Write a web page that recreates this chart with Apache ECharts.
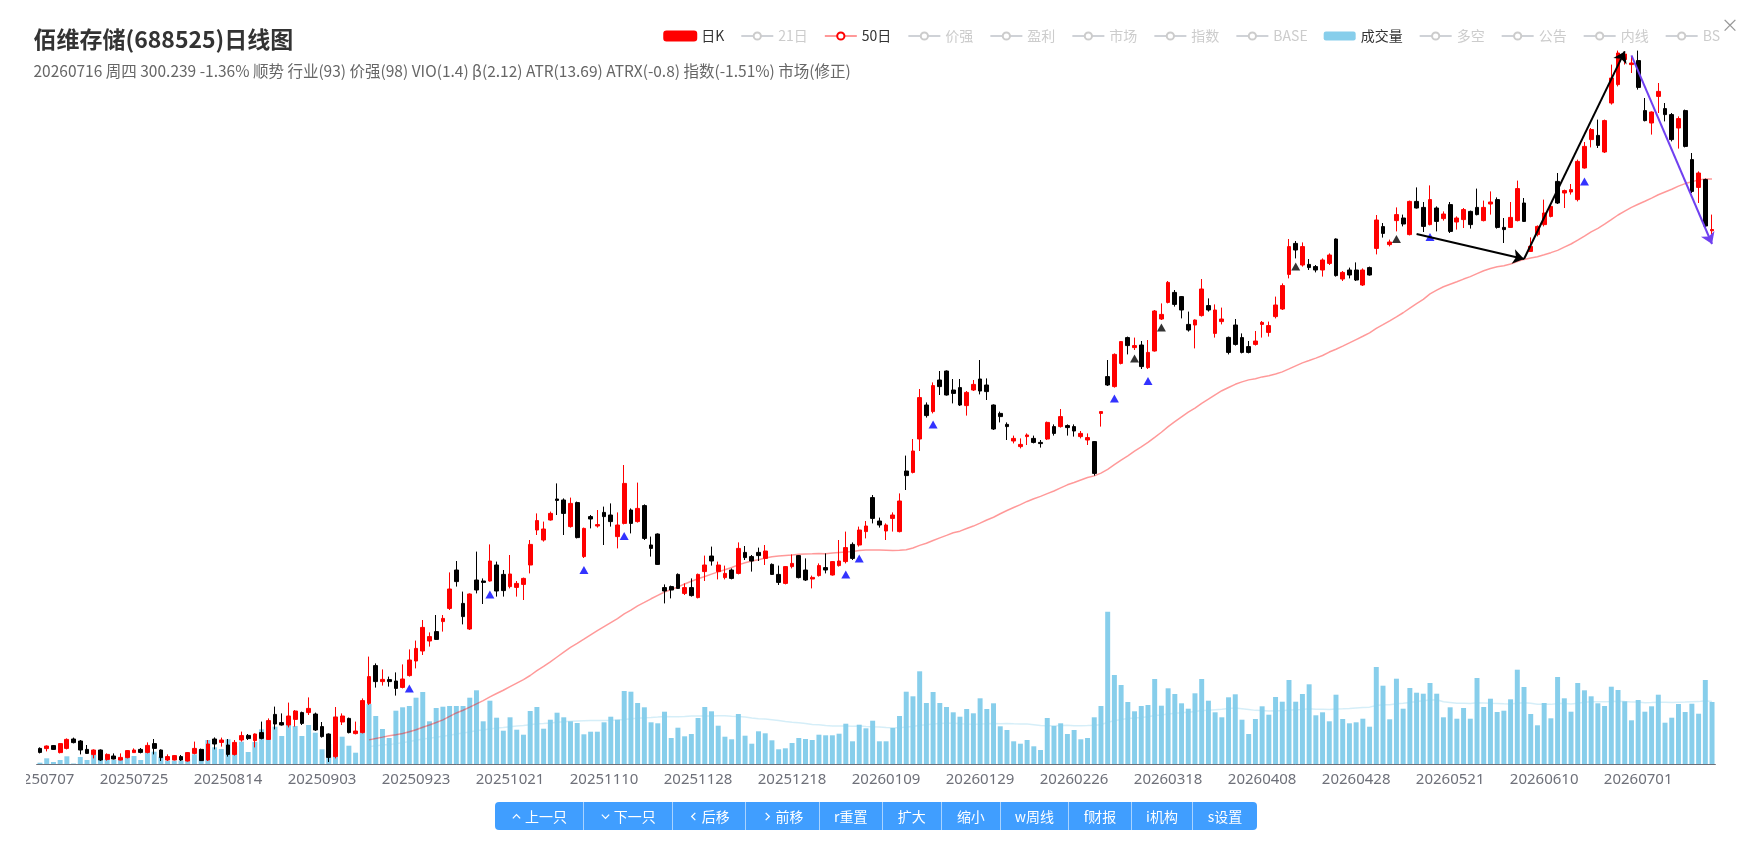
<!DOCTYPE html>
<html><head><meta charset="utf-8">
<script src="https://cdn.jsdelivr.net/npm/echarts/dist/echarts.min.js"></script>
<style>
html,body{margin:0;padding:0;background:#fff;width:1752px;height:857px;overflow:hidden;font-family:'Noto Sans CJK SC','Noto Sans',sans-serif;}
#chart{position:absolute;left:26px;top:0;width:1726px;height:857px;}
#close{position:absolute;left:1721px;top:15px;color:#999;font-size:18px;line-height:18px;}
#btns{position:absolute;left:495px;top:802px;height:28px;display:flex;}
#btns div{height:28px;line-height:28px;background:#409eff;color:#fff;font-size:14px;text-align:center;box-sizing:border-box;border-left:1px solid rgba(255,255,255,0.55);display:flex;align-items:center;justify-content:center;gap:3px;}
#btns div:first-child{border-left:none;border-radius:4px 0 0 4px;}
#btns div:last-child{border-radius:0 4px 4px 0;}
#btns svg{width:11px;height:11px;}
</style></head>
<body>
<div id="chart"></div>
<div id="close">×</div>
<div id="btns"></div>
<script>
// ---- categories (trading days) ----
const monthDays = [
 '202507:07 08 09 10 11 14 15 16 17 18 21 22 23 24 25 28 29 30 31',
 '202508:01 04 05 06 07 08 11 12 13 14 15 18 19 20 21 22 25 26 27 28 29',
 '202509:01 02 03 04 05 08 09 10 11 12 15 16 17 18 19 22 23 24 25 26 29 30',
 '202510:09 10 13 14 15 16 17 20 21 22 23 24 27 28 29 30 31',
 '202511:03 04 05 06 07 10 11 12 13 14 17 18 19 20 21 24 25 26 27 28',
 '202512:01 02 03 04 05 08 09 10 11 12 15 16 17 18 19 22 23 24 25 26 29 30 31',
 '202601:05 06 07 08 09 12 13 14 15 16 19 20 21 22 23 26 27 28 29 30',
 '202602:02 03 04 05 06 09 10 11 12 13 24 25 26 27',
 '202603:02 03 04 05 06 09 10 11 12 13 16 17 18 19 20 23 24 25 26 27 30 31',
 '202604:01 02 03 07 08 09 10 13 14 15 16 17 20 21 22 23 24 27 28 29 30',
 '202605:06 07 08 11 12 13 14 15 18 19 20 21 22 25 26 27 28 29',
 '202606:01 02 03 04 05 08 09 10 11 12 15 16 17 18 22 23 24 25 26 29 30',
 '202607:01 02 03 06 07 08 09 10 13 14 15 16'
];
const dates = [];
monthDays.forEach(s => { const p = s.split(':'); p[1].split(' ').forEach(d => dates.push(p[0] + d)); });

// ---- price data ----
const openP = [
40.8,40.7,42.2,38.7,40.8,45.5,44.5,40.3,37.7,40.0,
35.3,37.0,35.0,36.2,38.7,40.3,38.8,43.2,40.0,35.0,
35.0,36.7,34.5,38.3,40.3,35.0,45.5,43.8,42.5,37.8,
45.0,47.3,44.7,48.7,45.3,57.8,53.7,52.5,55.3,58.7,
58.7,58.0,51.7,48.0,36.7,54.0,55.8,48.2,48.7,63.3,
82.2,74.2,75.2,74.5,71.3,77.2,84.5,89.5,94.5,99.2,
104.2,110.8,130.0,113.3,100.5,125.0,124.5,124.5,132.5,127.8,
121.7,121.3,122.8,132.5,150.0,145.0,155.0,165.5,165.0,151.7,
163.7,136.7,156.7,152.0,158.8,157.5,146.7,153.3,160.0,154.2,
162.2,142.5,148.0,121.2,121.7,127.8,118.3,121.2,116.2,129.2,
137.0,129.2,126.2,130.0,128.3,138.8,136.7,138.8,135.8,132.8,
127.8,123.3,131.7,137.2,130.0,125.5,127.2,131.2,127.5,132.2,
134.2,142.8,142.5,149.2,166.2,154.5,149.5,155.8,149.2,179.5,
178.8,195.5,212.5,209.2,225.0,229.5,220.0,221.2,212.2,220.0,
225.5,222.5,212.5,208.3,202.8,194.5,191.7,196.7,195.8,193.8,
195.5,201.7,201.7,202.2,201.7,196.7,195.0,194.2,208.3,226.7,
221.7,233.3,246.2,241.2,242.5,231.2,239.5,255.5,263.8,268.8,
266.7,252.8,252.5,257.2,262.2,248.3,254.2,246.3,252.5,246.2,
241.7,242.8,252.8,248.8,256.7,260.5,277.8,293.3,282.5,282.8,
281.7,280.0,283.3,295.5,275.5,280.0,280.0,272.5,281.2,290.8,
301.7,292.7,304.7,306.0,297.7,314.3,311.3,302.7,311.0,305.7,
312.7,304.0,305.2,309.3,311.3,304.7,313.0,315.2,301.3,301.3,
304.7,313.5,289.3,297.7,302.7,306.8,324.3,318.5,319.0,315.2,
331.0,345.2,347.3,339.0,363.5,372.7,385.2,382.7,384.7,359.7,
353.5,366.8,360.7,357.7,351.0,359.7,335.2,321.3,325.2,299.6];
const closeP = [
38.8,42.0,40.3,43.2,45.3,43.7,40.0,38.3,40.0,35.0,
37.8,35.5,36.3,39.7,40.0,38.8,42.3,40.8,36.2,36.7,
37.2,35.0,38.7,40.8,34.7,43.0,43.0,45.0,37.8,43.8,
47.2,45.7,48.0,45.8,54.7,53.0,52.5,57.0,59.5,53.3,
60.8,50.0,46.7,36.3,56.5,57.0,48.7,49.5,64.7,76.7,
74.2,75.3,74.2,70.8,75.5,85.0,90.8,101.3,96.7,95.3,
105.8,120.5,124.2,106.7,118.0,120.0,123.8,134.5,119.5,119.7,
128.0,123.3,125.8,142.8,154.7,150.5,158.3,164.8,158.3,163.3,
146.2,150.8,155.5,152.7,156.7,154.2,152.5,173.3,153.3,160.8,
145.8,140.8,132.8,119.5,120.0,120.8,121.2,117.2,127.8,132.5,
134.5,132.5,128.3,125.8,140.8,136.2,134.5,137.2,139.5,127.8,
123.8,131.7,133.3,126.2,125.0,126.3,132.2,130.0,134.2,134.5,
141.2,135.8,150.0,152.0,155.8,152.5,152.5,157.5,164.5,177.2,
189.5,216.2,207.2,222.2,221.7,217.5,218.3,212.5,218.8,222.8,
219.5,219.2,200.5,206.7,201.7,195.8,192.8,197.5,193.8,193.2,
203.8,198.3,206.7,201.2,199.5,198.3,196.2,178.3,209.2,222.5,
237.8,244.2,242.2,242.2,231.7,238.8,259.5,257.8,273.8,262.8,
260.0,250.0,255.0,270.5,260.0,260.0,255.5,238.8,242.8,238.8,
238.8,244.5,253.8,252.2,262.5,272.2,291.7,290.0,291.7,281.2,
280.0,285.0,287.5,277.2,278.8,277.5,275.0,280.0,277.5,305.0,
298.3,294.0,307.7,303.0,314.3,311.0,301.8,315.2,304.3,308.0,
299.3,306.0,310.2,302.7,307.7,311.3,314.0,301.3,300.2,306.3,
320.7,304.3,291.8,301.8,308.5,311.8,313.5,319.7,320.2,334.3,
341.8,350.2,342.3,354.7,376.0,388.5,388.0,383.5,371.3,354.7,
359.0,369.3,357.7,345.2,355.7,341.8,319.3,328.5,302.0,300.24];
const lowP = [
38.3,39.3,40.0,38.3,40.3,43.3,37.8,38.0,35.8,34.5,
34.7,35.3,34.8,35.8,38.5,38.3,38.3,37.8,34.5,34.5,
34.8,34.5,34.2,37.8,34.5,34.5,40.3,41.7,36.7,37.2,
44.2,45.0,41.3,45.3,45.0,50.3,52.2,51.3,51.7,52.5,
57.5,49.5,46.2,34.0,35.8,52.5,48.3,47.8,48.3,62.5,
71.2,72.2,71.7,67.2,70.8,76.7,80.8,87.5,91.7,95.0,
99.2,110.0,121.7,102.8,100.0,118.3,113.0,124.2,116.7,116.7,
120.8,116.7,115.0,128.3,147.5,144.2,154.7,157.5,147.5,151.2,
145.8,136.0,150.8,151.2,142.5,151.7,140.8,152.8,148.3,153.7,
145.0,136.7,132.5,113.3,115.8,120.5,117.5,116.7,115.8,124.5,
132.2,125.3,125.3,125.3,127.8,135.0,129.2,134.5,132.5,127.5,
122.5,122.8,130.8,125.8,124.5,120.8,126.7,128.3,127.2,131.7,
133.3,135.0,141.7,145.8,153.3,151.2,145.0,149.2,148.8,170.0,
178.3,189.5,206.2,208.3,217.5,217.2,213.3,212.0,207.2,219.5,
217.8,215.0,200.0,203.8,195.0,193.3,190.8,192.5,193.3,191.2,
195.0,197.2,201.2,197.2,196.7,195.8,192.5,177.2,201.7,222.0,
221.2,232.8,237.8,240.0,230.5,230.5,239.2,255.0,263.3,261.7,
255.8,249.2,240.8,256.7,259.2,246.2,252.8,237.8,242.2,238.3,
238.3,242.2,246.2,246.7,255.8,260.0,275.8,285.8,281.7,280.0,
278.8,276.7,282.5,276.7,274.5,275.8,274.5,272.0,277.2,287.8,
296.2,291.8,299.3,301.8,297.3,310.7,299.0,302.3,299.3,304.7,
298.5,300.2,301.0,300.7,307.3,304.3,307.7,300.7,293.5,301.0,
304.3,304.0,289.0,296.8,301.8,306.3,313.0,311.0,317.7,314.3,
330.7,341.3,341.0,338.5,362.7,371.8,382.7,378.5,370.2,354.3,
347.7,358.5,354.3,344.3,340.7,341.3,318.5,313.5,300.0,295.2];
const highP = [
41.3,42.3,42.5,43.5,45.8,46.2,45.0,42.5,40.3,40.3,
38.3,38.3,38.3,40.0,40.8,41.0,43.8,45.5,40.3,37.8,
37.5,37.5,39.0,44.2,40.7,45.0,46.3,46.2,45.5,45.0,
49.2,48.0,48.3,54.2,55.8,61.7,58.3,63.7,60.0,59.2,
66.3,58.7,54.0,48.3,61.5,58.3,56.2,54.2,65.8,86.7,
83.3,80.3,76.7,78.8,82.8,90.3,94.7,105.0,98.8,107.5,
107.5,128.8,134.5,119.2,118.3,139.2,125.8,142.8,134.2,130.0,
137.5,124.5,126.2,145.0,158.3,154.2,159.2,173.3,165.8,166.2,
164.2,151.2,157.5,160.0,161.7,163.3,158.8,182.5,160.8,173.7,
162.8,146.7,148.3,122.8,122.2,128.3,123.3,125.8,128.2,137.2,
141.7,134.2,132.2,130.8,143.8,142.0,137.5,141.2,142.5,133.3,
132.2,132.0,137.8,137.5,135.8,127.2,133.3,138.3,134.5,145.0,
149.2,143.8,151.7,154.5,167.5,156.2,153.3,158.8,168.3,187.2,
195.5,220.5,213.8,223.8,229.5,229.8,225.5,225.5,219.5,225.0,
235.0,225.8,212.8,209.2,203.8,197.2,195.8,198.3,197.2,195.0,
204.2,202.8,210.5,202.8,202.8,199.5,198.3,194.5,209.2,235.0,
238.3,244.5,246.7,246.2,244.5,245.0,260.0,263.3,274.5,270.0,
267.0,259.2,255.3,275.5,265.8,262.8,261.2,246.7,255.5,248.3,
244.5,249.5,254.5,254.2,266.7,273.3,295.5,294.5,293.8,285.5,
282.5,285.8,288.3,295.8,279.5,281.2,283.8,280.8,281.7,307.5,
303.5,295.2,311.3,307.7,314.7,321.3,314.0,322.3,311.8,309.3,
314.0,306.8,311.0,309.7,320.7,314.7,319.3,316.3,306.0,314.0,
324.7,316.0,296.3,302.3,315.2,312.7,328.5,320.2,323.0,335.2,
344.0,351.0,355.2,355.2,382.7,389.7,389.3,386.8,389.7,366.0,
359.3,373.5,363.5,358.5,356.8,360.2,338.5,329.3,325.7,307.7];
// volume (万手)
const volume = [
0.13,0.57,0.2,0.4,0.77,0.05,0.7,0.4,0.9,0.7,
0.5,0.4,0.4,0.67,0.8,0.4,1.23,1.23,0.73,0.33,
0.33,0.33,0.47,0.97,1.47,2.4,1.67,1.5,2.47,1.8,
2.23,1.2,2.2,3.47,4.3,3.73,2.8,4.73,3.8,2.8,
3.9,3.13,1.47,2.0,4.73,2.73,1.83,1.13,3.8,6.0,
4.8,3.5,2.6,5.33,5.67,5.8,6.63,7.2,4.27,5.6,
5.73,5.8,5.8,5.8,6.63,7.37,4.27,6.33,4.63,3.33,
4.67,3.43,2.93,5.3,5.7,3.53,4.43,5.13,4.67,4.27,
4.1,2.97,3.23,3.23,4.17,4.73,4.43,7.3,7.23,6.1,
5.67,4.17,4.07,5.23,2.6,3.63,2.77,3.0,4.6,5.7,
5.27,3.83,2.73,2.47,5.0,2.83,2.03,3.27,3.07,2.37,
1.47,1.57,2.1,2.6,2.5,2.4,2.93,2.87,2.87,3.03,
4.03,2.27,3.93,3.57,4.33,2.27,2.27,3.6,4.8,7.23,
6.77,9.27,6.1,7.2,6.1,5.7,5.17,4.73,5.5,5.07,
6.57,5.5,6.07,3.77,3.4,2.27,2.03,2.4,1.77,1.4,
4.6,3.8,4.07,3.0,3.4,2.47,2.6,4.67,5.8,15.23,
8.9,7.9,6.2,5.27,5.8,5.9,8.5,5.83,7.57,7.0,
6.07,5.53,7.07,8.5,6.33,5.17,4.67,6.67,6.97,4.43,
3.0,4.5,5.77,4.93,6.7,6.23,8.4,6.23,7.0,7.97,
4.87,5.17,4.27,6.93,4.5,4.07,4.17,4.53,3.73,9.7,
7.83,4.47,8.53,5.53,7.6,7.13,7.03,8.1,7.03,4.67,
5.67,4.53,5.6,4.53,8.6,5.7,6.53,5.2,5.33,6.47,
9.43,7.7,5.0,3.87,6.1,4.57,8.7,6.57,5.23,8.1,
7.37,6.77,6.07,5.8,7.73,7.4,6.27,4.37,6.4,5.23,
5.77,6.93,4.13,4.63,6.0,5.2,6.03,5.03,8.4,6.2];

// signal markers [index, price]
const blueSignals = [[55,70.8],[67,117.8],[81,130.0],[87,147.0],[120,127.8],[122,135.8],[133,202.8],[160,215.8],[165,224.5],[207,296.5],[230,324.3]];
const blackSignals = [[163,235.8],[167,251.2],[187,281.7],[202,295.5]];
// trend arrows [fromIndex, fromPrice, toIndex, toPrice, color]
const arrows = [[205,298.0,221,285.5,'#000000'],[221,285.5,236,389.3,'#000000'],[237,387.3,249,293.0,'#7040f0']];

const titleText = '佰维存储(688525)日线图';
const subText = '20260716 周四 300.239 -1.36% 顺势 行业(93) 价强(98) VIO(1.4) β(2.12) ATR(13.69) ATRX(-0.8) 指数(-1.51%) 市场(修正)';
const legendNames = ['日K','21日','50日','价强','盈利','市场','指数','BASE','成交量','多空','公告','内线','BS'];
const hiddenNames = ['21日','价强','盈利','市场','指数','BASE','多空','公告','内线','BS'];
const buttonLabels = [['up','上一只'],['down','下一只'],['left','后移'],['right','前移'],['','r重置'],['','扩大'],['','缩小'],['','w周线'],['','f财报'],['','i机构'],['','s设置']];

function movingAvg(arr, n) {
  const out = [];
  for (let i = 0; i < arr.length; i++) {
    if (i < n - 1) { out.push('-'); continue; }
    let s = 0; for (let j = i - n + 1; j <= i; j++) s += arr[j];
    out.push(+(s / n).toFixed(3));
  }
  return out;
}

const kData = dates.map((d, i) => [openP[i], closeP[i], lowP[i], highP[i]]);
const ma50 = movingAvg(closeP, 50);
const volMa = movingAvg(volume, 50);

const FONT = "'Noto Sans CJK SC','Noto Sans',sans-serif";
const gridLeft = 10.64, gridWidth = 1678.75;

const selected = {}; hiddenNames.forEach(n => selected[n] = false);

const series = [
  { name: '成交量', type: 'bar', xAxisIndex: 1, yAxisIndex: 1, data: volume, barWidth: '74%',
    itemStyle: { color: '#87ceeb' }, z: 1, silent: true },
  { name: 'volMA', type: 'line', xAxisIndex: 1, yAxisIndex: 1, data: volMa, showSymbol: false,
    lineStyle: { color: '#87ceeb', width: 1.5, opacity: 0.35 }, z: 2, silent: true },
  { name: '50日', type: 'line', xAxisIndex: 0, yAxisIndex: 0, data: ma50, showSymbol: false,
    itemStyle: { color: '#ff0000' }, lineStyle: { color: '#ff0000', width: 1.5, opacity: 0.4 }, z: 2, silent: true },
  { name: '日K', type: 'candlestick', xAxisIndex: 0, yAxisIndex: 0, data: kData, barWidth: '63%',
    itemStyle: { color: '#ff0000', color0: '#000000', borderColor: '#ff0000', borderColor0: '#000000', borderWidth: 1 }, z: 3, silent: true },
  { name: 'sigBlue', type: 'scatter', xAxisIndex: 0, yAxisIndex: 0, data: blueSignals, symbol: 'triangle', symbolSize: [9, 8],
    itemStyle: { color: '#0000ff' }, z: 4, silent: true },
  { name: 'sigBlack', type: 'scatter', xAxisIndex: 0, yAxisIndex: 0, data: blackSignals, symbol: 'triangle', symbolSize: [9, 8],
    itemStyle: { color: '#000000' }, z: 4, silent: true,
    markLine: { silent: true, symbol: ['none', 'arrow'], symbolSize: 11, animation: false, label: { show: false },
      data: arrows.map(a => [
        { coord: [dates[a[0]], a[1]], lineStyle: { color: a[4], width: 2, type: 'solid' } },
        { coord: [dates[a[2]], a[3]] }
      ]) } }
];
hiddenNames.forEach(n => series.push({ name: n, type: 'line', xAxisIndex: 0, yAxisIndex: 0, data: [] }));

const chart = echarts.init(document.getElementById('chart'), null, { renderer: 'canvas' });
chart.setOption({
  animation: false,
  backgroundColor: '#fff',
  title: [
    { text: titleText, left: 7.5, top: 28, padding: 0,
      textStyle: { fontSize: 23, fontWeight: 'bold', color: '#333', fontFamily: FONT } },
    { text: subText, left: 7.5, top: 63.5, padding: 0,
      textStyle: { fontSize: 15.5, fontWeight: 'normal', color: '#666', fontFamily: FONT } }
  ],
  legend: { data: legendNames, selected: selected, right: 32, top: 29, padding: 0,
    itemWidth: 32, itemHeight: 9, itemGap: 16, inactiveColor: '#ccc',
    textStyle: { fontSize: 14, color: '#333', fontFamily: FONT } },
  grid: [
    { left: gridLeft, width: gridWidth, top: 40, height: 724, containLabel: false, outerBoundsMode: 'none' },
    { left: gridLeft, width: gridWidth, top: 564, height: 200, containLabel: false, outerBoundsMode: 'none' }
  ],
  xAxis: [
    { type: 'category', gridIndex: 0, data: dates, boundaryGap: true,
      axisLine: { lineStyle: { color: '#6E7079' } },
      axisTick: { alignWithLabel: true, interval: 13, length: 5 },
      axisLabel: { interval: 13, fontSize: 15, color: '#6E7079', margin: 8, fontFamily: "'Noto Sans',sans-serif" },
      splitLine: { show: false } },
    { type: 'category', gridIndex: 1, data: dates, boundaryGap: true, show: false }
  ],
  yAxis: [
    { type: 'value', gridIndex: 0, min: 33, max: 395, show: false, splitLine: { show: false } },
    { type: 'value', gridIndex: 1, min: 0, max: 20, show: false, splitLine: { show: false } }
  ],
  series: series
});

// buttons
const icons = {
  up: '<svg viewBox="0 0 12 12"><polyline points="2,8 6,4 10,8" fill="none" stroke="#fff" stroke-width="1.4"/></svg>',
  down: '<svg viewBox="0 0 12 12"><polyline points="2,4 6,8 10,4" fill="none" stroke="#fff" stroke-width="1.4"/></svg>',
  left: '<svg viewBox="0 0 12 12"><polyline points="8,2 4,6 8,10" fill="none" stroke="#fff" stroke-width="1.4"/></svg>',
  right: '<svg viewBox="0 0 12 12"><polyline points="4,2 8,6 4,10" fill="none" stroke="#fff" stroke-width="1.4"/></svg>'
};
const btnWidths = [88, 88.5, 73.5, 74, 62.6, 59.2, 59.2, 68, 63, 61, 65];
const btns = document.getElementById('btns');
buttonLabels.forEach((b, i) => {
  const d = document.createElement('div');
  d.style.width = btnWidths[i] + 'px';
  d.innerHTML = (b[0] ? icons[b[0]] : '') + '<span>' + b[1] + '</span>';
  btns.appendChild(d);
});
</script>
</body></html>
